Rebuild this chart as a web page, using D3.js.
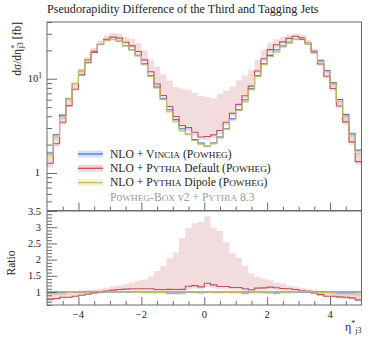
<!DOCTYPE html>
<html>
<head>
<meta charset="utf-8">
<script src="https://d3js.org/d3.v7.min.js"></script>
<style>
  body { margin: 0; background: #fff; }
  svg text { font-family: "Liberation Serif", "DejaVu Serif", serif; fill: #222; }
</style>
</head>
<body>
<svg width="374" height="337"></svg>
<script>

// bin edges of the eta*_j3 histogram
var edges = [-5.0,-4.8,-4.6,-4.4,-4.2,-4.0,-3.8,-3.6,-3.4,-3.2,-3.0,-2.8,-2.6,-2.4,-2.2,-2.0,-1.8,-1.6,-1.4,-1.2,-1.0,
             -0.8,-0.6,-0.4,-0.2,0.0,0.2,0.4,0.6,0.8,1.0,1.2,1.4,1.6,1.8,2.0,2.2,2.4,2.6,2.8,3.0,
             3.2,3.4,3.6,3.8,4.0,4.2,4.4,4.6,4.8,5.0];

// NLO + Vincia (Powheg) -- reference for the ratio
var vincia = [1.63,2.55,4.11,6.18,8.9,12.2,15.9,19.6,23.1,25.5,26.1,25.0,22.4,20.3,17.7,14.4,10.8,8.15,6.14,4.69,
              3.68,2.95,2.57,2.26,2.08,1.92,2.08,2.41,2.95,3.76,4.69,5.99,7.8,10.8,14.4,17.7,20.3,22.2,24.4,26.1,
              26.1,23.5,19.6,15.6,12.2,9.05,6.03,4.16,2.61,1.74];
var vinciaRelErr = [0.04,0.03,0.03,0.02,0.02,0.02,0.02,0.02,0.02,0.02,0.02,0.02,0.02,0.02,0.02,0.02,0.02,0.02,0.02,0.02,
                    0.02,0.02,0.02,0.02,0.02,0.02,0.02,0.02,0.02,0.02,0.02,0.02,0.02,0.02,0.02,0.02,0.02,0.02,0.02,0.02,
                    0.02,0.02,0.02,0.02,0.02,0.02,0.02,0.03,0.03,0.04];

// NLO + Pythia Default (Powheg) with its variation band
var pyDefault = [1.27,2.04,3.45,5.19,7.74,10.98,14.79,19.01,23.1,26.27,27.67,27.0,24.42,22.33,19.47,15.84,11.88,8.80,6.63,5.07,
                 3.97,3.19,3.03,2.71,2.41,2.44,2.54,2.82,3.45,4.29,5.35,6.59,8.35,12.1,16.27,20.36,22.94,24.64,26.84,28.19,
                 27.14,23.97,19.01,14.35,10.61,7.87,5.13,3.49,2.14,1.32];
var pyDefaultHi = [1.52,2.42,4.03,6.18,9.08,12.69,16.85,21.17,25.41,28.82,30.80,30.0,27.78,26.39,23.90,20.02,15.98,13.45,11.11,9.57,
                   8.17,7.85,7.63,7.05,6.57,6.39,6.20,6.94,7.49,8.27,9.61,10.84,12.32,15.88,20.30,24.07,26.19,27.97,29.04,30.28,
                   29.49,25.85,20.97,16.22,12.44,9.05,5.91,4.04,2.48,1.62];
var pyDefaultLo = [1.14,1.89,3.21,4.94,7.48,10.74,14.47,18.62,22.64,25.5,26.62,25.75,23.30,21.11,18.41,14.98,11.23,8.39,6.32,4.83,
                   3.79,3.04,2.78,2.49,2.25,2.21,2.33,2.60,3.19,3.99,4.97,6.23,7.96,11.34,15.12,18.76,21.32,23.09,25.13,26.36,
                   25.58,22.56,18.03,13.73,10.13,7.42,4.82,3.24,1.98,1.22];

// NLO + Pythia Dipole (Powheg)
var pyDipole = [1.55,2.42,3.90,6.12,8.9,12.2,15.9,19.8,23.3,25.5,26.1,25.0,22.4,20.3,17.5,14.1,10.6,7.99,6.02,4.46,
                3.50,2.80,2.57,2.21,2.02,1.92,2.04,2.36,2.92,3.68,4.60,5.69,7.64,10.6,14.1,17.2,19.3,21.8,23.9,26.1,
                26.6,23.7,19.2,15.3,12.0,8.78,5.73,3.95,2.48,1.62];
var pyDipoleRelErr = [0.08,0.07,0.06,0.06,0.05,0.05,0.05,0.04,0.03,0.03,0.03,0.03,0.03,0.03,0.03,0.03,0.03,0.03,0.03,0.03,
                      0.03,0.03,0.03,0.03,0.03,0.03,0.03,0.03,0.03,0.03,0.03,0.03,0.03,0.03,0.03,0.03,0.03,0.03,0.03,0.03,
                      0.03,0.04,0.04,0.05,0.05,0.06,0.07,0.09,0.09,0.10];

var xTicks = [-4, -2, 0, 2, 4];
var ratioTicks = [1, 1.5, 2, 2.5, 3, 3.5];

var blue = "#4c72e0", red = "#c0505c", yellow = "#c9bf5e";

var svg = d3.select("svg");

var x = d3.scaleLinear().domain([-5, 5]).range([47, 361.5]);
var y = d3.scaleLog().domain([0.4, 40]).range([210.5, 22]);
var yr = d3.scaleLinear().domain([0.6, 3.5]).range([305, 211]);

// clip paths for both panels
var defs = svg.append("defs");
defs.append("clipPath").attr("id", "cmain").append("rect")
  .attr("x", x(-5)).attr("y", y(40)).attr("width", x(5) - x(-5)).attr("height", y(0.4) - y(40));
defs.append("clipPath").attr("id", "cratio").append("rect")
  .attr("x", x(-5)).attr("y", yr(3.5)).attr("width", x(5) - x(-5)).attr("height", yr(0.6) - yr(3.5));

function steps(vals) {
  var pts = [];
  vals.forEach(function(v, i) { pts.push([edges[i], v]); pts.push([edges[i + 1], v]); });
  return pts;
}
function bandSteps(lo, hi) {
  var pts = [];
  lo.forEach(function(v, i) {
    pts.push([edges[i], v, hi[i]]); pts.push([edges[i + 1], v, hi[i]]);
  });
  return pts;
}
function relBand(vals, rel, s) {
  return vals.map(function(v, i) { return v * (1 + s * rel[i]); });
}
function div(a, b) { return a.map(function(v, i) { return v / b[i]; }); }

function drawPanel(g, ys, series) {
  var line = d3.line().x(function(d) { return x(d[0]); }).y(function(d) { return ys(d[1]); });
  var area = d3.area().x(function(d) { return x(d[0]); })
    .y0(function(d) { return ys(d[1]); }).y1(function(d) { return ys(d[2]); });
  series.forEach(function(s) {
    g.append("path").datum(bandSteps(s.lo, s.hi))
      .attr("fill", s.color).attr("fill-opacity", s.op).attr("d", area);
  });
  series.forEach(function(s) {
    g.append("path").datum(steps(s.vals))
      .attr("fill", "none").attr("stroke", s.color).attr("stroke-width", 1.1).attr("d", line);
  });
}

// ---- main panel ----
var gm = svg.append("g").attr("clip-path", "url(#cmain)");
drawPanel(gm, y, [
  {vals: vincia, lo: relBand(vincia, vinciaRelErr, -1), hi: relBand(vincia, vinciaRelErr, 1), color: blue, op: 0.22},
  {vals: pyDefault, lo: pyDefaultLo, hi: pyDefaultHi, color: red, op: 0.2},
  {vals: pyDipole, lo: relBand(pyDipole, pyDipoleRelErr, -1), hi: relBand(pyDipole, pyDipoleRelErr, 1), color: yellow, op: 0.2}
]);

// ---- ratio panel ----
var ones = vincia.map(function() { return 1; });
var gr = svg.append("g").attr("clip-path", "url(#cratio)");
drawPanel(gr, yr, [
  {vals: ones, lo: div(relBand(vincia, vinciaRelErr, -1), vincia), hi: div(relBand(vincia, vinciaRelErr, 1), vincia), color: blue, op: 0.22},
  {vals: div(pyDefault, vincia), lo: div(pyDefaultLo, vincia), hi: div(pyDefaultHi, vincia), color: red, op: 0.2},
  {vals: div(pyDipole, vincia), lo: div(relBand(pyDipole, pyDipoleRelErr, -1), vincia), hi: div(relBand(pyDipole, pyDipoleRelErr, 1), vincia), color: yellow, op: 0.2}
]);

// ---- axes ----
var axisCol = "#6a6a6a";
function xAxis(yPos, labels) {
  var g = svg.append("g").attr("transform", "translate(0," + yPos + ")");
  var minor = d3.range(-4.5, 5, 0.5).filter(function(t) { return xTicks.indexOf(t) < 0; });
  g.append("g").call(d3.axisTop(x).tickValues(minor).tickSize(4).tickFormat(""))
    .call(function(a) { a.select(".domain").remove(); a.selectAll("line").attr("stroke", axisCol); });
  g.append("g").call(d3.axisTop(x).tickValues(xTicks).tickSize(8).tickFormat(""))
    .call(function(a) { a.select(".domain").remove(); a.selectAll("line").attr("stroke", axisCol); });
  if (labels) {
    g.selectAll("text.xl").data(xTicks).enter().append("text")
      .attr("x", function(d) { return x(d); }).attr("y", 13)
      .attr("text-anchor", "middle").attr("font-size", 10.5)
      .text(function(d) { return d < 0 ? "\u2212" + (-d) : d; });
  }
}
xAxis(y(0.4), false);
xAxis(yr(0.6), true);

// main y axis (log)
var gy = svg.append("g").attr("transform", "translate(" + x(-5) + ",0)");
var yMinor = [0.4,0.5,0.6,0.7,0.8,0.9,2,3,4,5,6,7,8,9,20,30,40];
gy.call(d3.axisRight(y).tickValues(yMinor).tickSize(5).tickFormat(""))
  .call(function(a) { a.select(".domain").remove(); a.selectAll("line").attr("stroke", axisCol); });
var gy2 = svg.append("g").attr("transform", "translate(" + x(-5) + ",0)");
gy2.call(d3.axisRight(y).tickValues([1, 10]).tickSize(10).tickFormat(""))
  .call(function(a) { a.select(".domain").remove(); a.selectAll("line").attr("stroke", axisCol); });
svg.append("text").attr("x", 40).attr("y", y(1) + 3.5).attr("text-anchor", "end").attr("font-size", 10.5).text("1");
var t10 = svg.append("text").attr("x", 42).attr("y", y(10) + 3.5).attr("text-anchor", "end").attr("font-size", 10.5);
t10.append("tspan").text("10");
t10.append("tspan").attr("dy", -4).attr("font-size", 7.5).text("1");

// ratio y axis
var gry = svg.append("g").attr("transform", "translate(" + x(-5) + ",0)");
var rMinor = d3.range(0.6, 3.5, 0.1).filter(function(t) { return Math.abs(t * 2 - Math.round(t * 2)) > 0.01; });
gry.call(d3.axisRight(yr).tickValues(rMinor).tickSize(5).tickFormat(""))
  .call(function(a) { a.select(".domain").remove(); a.selectAll("line").attr("stroke", axisCol); });
var gry2 = svg.append("g").attr("transform", "translate(" + x(-5) + ",0)");
gry2.call(d3.axisRight(yr).tickValues(ratioTicks).tickSize(10).tickFormat(""))
  .call(function(a) { a.select(".domain").remove(); a.selectAll("line").attr("stroke", axisCol); });
svg.selectAll("text.rl").data(ratioTicks).enter().append("text")
  .attr("x", 41).attr("y", function(d) { return yr(d) + 3.5; })
  .attr("text-anchor", "end").attr("font-size", 10.5)
  .text(function(d) { return d; });

// frames
svg.append("rect").attr("x", x(-5)).attr("y", y(40)).attr("width", x(5) - x(-5)).attr("height", y(0.4) - y(40))
  .attr("fill", "none").attr("stroke", axisCol).attr("stroke-width", 1);
svg.append("rect").attr("x", x(-5)).attr("y", yr(3.5)).attr("width", x(5) - x(-5)).attr("height", yr(0.6) - yr(3.5))
  .attr("fill", "none").attr("stroke", axisCol).attr("stroke-width", 1);

// title
svg.append("text").attr("x", 47).attr("y", 12.5).attr("font-size", 12.1)
  .text("Pseudorapidity Difference of the Third and Tagging Jets");

// y label
var yl = svg.append("text").attr("transform", "translate(21,22) rotate(-90)")
  .attr("text-anchor", "end").attr("font-size", 11.5);
yl.append("tspan").text("d\u03C3/d\u03B7");
yl.append("tspan").attr("dy", -4).attr("font-size", 8).text("*");
yl.append("tspan").attr("dy", 6).attr("dx", -3.5).attr("font-size", 8).text("j3");
yl.append("tspan").attr("dy", -2).text(" [fb]");

svg.append("text").attr("transform", "translate(15,263) rotate(-90)")
  .attr("text-anchor", "middle").attr("font-size", 11.5).text("Ratio");

// x label
var xl = svg.append("text").attr("x", 361.5).attr("y", 331).attr("text-anchor", "end").attr("font-size", 12);
xl.append("tspan").text("\u03B7");
xl.append("tspan").attr("dy", -5).attr("font-size", 8).text("*");
xl.append("tspan").attr("dy", 7).attr("font-size", 8).text("j3");

// text with hand-made small capitals: words flagged 1 get a full-size initial and reduced caps
function scText(t, parts, size) {
  parts.forEach(function(p) {
    if (p[1]) {
      t.append("tspan").attr("font-size", size).text(p[0].charAt(0));
      t.append("tspan").attr("font-size", size * 0.8).text(p[0].slice(1).toUpperCase());
    } else {
      t.append("tspan").attr("font-size", size).text(p[0]);
    }
  });
}

// legend
var legend = [
  {color: blue, parts: [["NLO + ", 0], ["Vincia", 1], [" (", 0], ["Powheg", 1], [")", 0]]},
  {color: red, parts: [["NLO + ", 0], ["Pythia", 1], [" Default (", 0], ["Powheg", 1], [")", 0]]},
  {color: yellow, parts: [["NLO + ", 0], ["Pythia", 1], [" Dipole (", 0], ["Powheg", 1], [")", 0]]}
];
legend.forEach(function(l, i) {
  var ly = 154 + i * 14.3;
  svg.append("rect").attr("x", 78).attr("y", ly - 3.5).attr("width", 25).attr("height", 7)
    .attr("fill", l.color).attr("fill-opacity", 0.22);
  svg.append("line").attr("x1", 78).attr("x2", 103).attr("y1", ly).attr("y2", ly)
    .attr("stroke", l.color).attr("stroke-width", 1.3);
  var t = svg.append("text").attr("x", 110).attr("y", ly + 3.6);
  scText(t, l.parts, 11.6);
});
var note = svg.append("text").attr("x", 110).attr("y", 200.5).style("fill", "#9a9a9a");
scText(note, [["P", 0], ["owheg", 1], ["-", 0], ["Box", 1], [" v2 + ", 0], ["Pythia", 1], [" 8.3", 0]], 11.6);
note.selectAll("tspan").style("fill", "#9a9a9a");

</script>
</body>
</html>
